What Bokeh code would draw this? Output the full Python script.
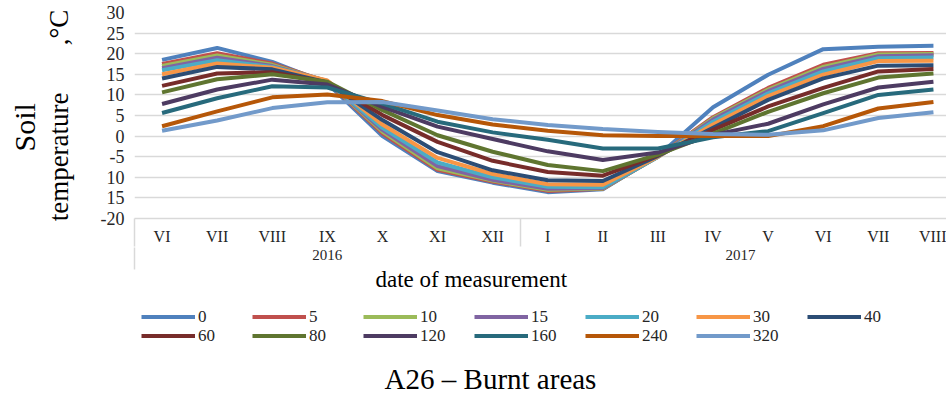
from bokeh.plotting import figure
from bokeh.layouts import column
from bokeh.models import (Range1d, FixedTicker, LinearAxis, Legend, LegendItem,
                          Title, Grid, Label)
from bokeh.embed import file_html
from bokeh.resources import INLINE

# ---------------- data ----------------
months = ["VI", "VII", "VIII", "IX", "X", "XI", "XII",
          "I", "II", "III", "IV", "V", "VI", "VII", "VIII"]
years = ["2016", "2017"]
months_per_year = [7, 8]

depths = ["0", "5", "10", "15", "20", "30", "40", "60", "80", "120", "160", "240", "320"]

t0   = [18.5, 21.4, 18.0, 12.8, 0.0, -8.5, -11.3, -13.6, -12.9, -4.8, 7.0, 14.9, 21.1, 21.7, 21.9]
t5   = [17.5, 20.1, 17.6, 13.2, 0.7, -8.2, -11.0, -13.3, -12.8, -4.9, 4.6, 11.7, 17.3, 20.1, 20.2]
t10  = [17.0, 19.6, 17.3, 13.3, 1.1, -7.8, -10.8, -13.0, -12.7, -5.0, 4.3, 11.3, 16.8, 19.8, 19.9]
t15  = [16.5, 19.0, 17.0, 13.4, 1.5, -7.3, -10.6, -12.8, -12.6, -5.0, 4.0, 10.9, 16.3, 19.4, 19.6]
t20  = [16.0, 18.4, 16.8, 13.3, 2.0, -6.4, -10.0, -12.3, -12.4, -5.1, 3.5, 10.4, 15.7, 18.9, 19.1]
t30  = [15.0, 17.6, 16.6, 13.5, 2.8, -5.3, -9.2, -11.7, -11.8, -5.0, 2.8, 9.7, 14.9, 18.2, 18.3]
t40  = [14.0, 16.8, 16.2, 13.0, 3.9, -3.9, -8.3, -10.7, -10.9, -4.8, 2.0, 8.8, 14.0, 17.1, 17.2]
t60  = [12.2, 15.2, 15.5, 13.0, 5.1, -1.4, -6.0, -8.7, -9.6, -4.6, 1.5, 7.2, 11.7, 15.7, 16.3]
t80  = [10.6, 13.8, 15.0, 13.2, 6.3, 0.2, -3.8, -7.0, -8.5, -4.5, 0.6, 5.9, 10.4, 14.2, 15.2]
t120 = [7.8, 11.3, 13.7, 12.5, 7.1, 2.3, -0.7, -3.7, -5.8, -4.0, 0.3, 3.0, 7.7, 11.8, 13.2]
t160 = [5.6, 9.2, 12.1, 11.8, 7.9, 3.5, 0.9, -0.9, -3.0, -3.0, -0.3, 1.2, 5.6, 10.0, 11.3]
t240 = [2.4, 6.0, 9.4, 10.1, 8.5, 5.1, 2.8, 1.3, 0.2, 0.0, 0.0, 0.0, 2.4, 6.7, 8.3]
t320 = [1.3, 3.8, 6.8, 8.2, 8.3, 6.2, 4.1, 2.7, 1.7, 1.0, 0.5, 0.3, 1.4, 4.4, 5.8]

series = [t0, t5, t10, t15, t20, t30, t40, t60, t80, t120, t160, t240, t320]

colors = ["#4F81BD", "#C0504D", "#9BBB59", "#8064A2", "#4BACC6", "#F79646",
          "#2C4D75", "#772C2A", "#5F7530", "#4D3B62", "#276A7C", "#B65708", "#729ACA"]

y_ticks = [-20, -15, -10, -5, 0, 5, 10, 15, 20, 25, 30]
y_tick_labels = ["-20", "15", "10", "-5", "0", "5", "10", "15", "20", "25", "30"]

legend_cols = 7

# ---------------- layout constants ----------------
SERIF = "Liberation Serif"
WIDTH = 946
HEIGHT_A, HEIGHT_B = 302, 94
LEFT, TOP, BOTTOM = 134, 12, 84
FRAME_W = WIDTH - LEFT
UNIT_X = 55.1
x_end = -0.5 + FRAME_W / UNIT_X
GRID = "#d9d9d9"
TXT = "#262626"

xs = list(range(len(months)))

# ================= main chart =================
p = figure(width=WIDTH, height=HEIGHT_A,
           x_range=Range1d(-0.5, x_end), y_range=Range1d(y_ticks[0], y_ticks[-1]),
           x_axis_type=None, y_axis_type=None,
           output_backend="svg", toolbar_location=None,
           min_border_left=LEFT, min_border_right=0,
           min_border_top=TOP, min_border_bottom=BOTTOM)
p.outline_line_color = None

yticker = FixedTicker(ticks=y_ticks)
p.add_layout(Grid(dimension=1, ticker=yticker, grid_line_color=GRID,
                  grid_line_width=1.5))

for vals, col in zip(series, colors):
    p.line(xs, vals, line_color=col, line_width=4, line_join="round")

# y axis with (second line of) its title
yaxis = LinearAxis(ticker=yticker,
                   major_label_overrides=dict(zip(y_ticks, y_tick_labels)),
                   axis_line_color=None, major_tick_line_color=None,
                   minor_tick_line_color=None, major_tick_out=0, major_tick_in=0,
                   major_label_standoff=10,
                   major_label_text_font=SERIF,
                   major_label_text_font_size="18px",
                   major_label_text_color=TXT,
                   axis_label="temperature" + "\u00a0" * 7 + ",\u00b0C",
                   axis_label_standoff=24,
                   axis_label_text_font=SERIF,
                   axis_label_text_font_size="27px",
                   axis_label_text_font_style="normal",
                   axis_label_text_color="black")
p.add_layout(yaxis, "left")
p.add_layout(Title(text="Soil", align="left", offset=67, text_font=SERIF,
                   text_font_size="30px", text_font_style="normal",
                   text_color="black", standoff=0), "left")

# month axis (first level)
bounds = [-0.5]
for n in months_per_year:
    bounds.append(bounds[-1] + n)
maxis = LinearAxis(ticker=FixedTicker(ticks=xs, minor_ticks=bounds[:-1]),
                   major_label_overrides={i: m for i, m in enumerate(months)},
                   axis_line_color=GRID, axis_line_width=1.5,
                   major_tick_line_color=None, major_tick_out=0, major_tick_in=0,
                   minor_tick_line_color=GRID, minor_tick_line_width=1.5,
                   minor_tick_out=28, minor_tick_in=0,
                   major_label_standoff=-19,
                   major_label_text_font=SERIF,
                   major_label_text_font_size="16px",
                   major_label_text_color=TXT)
p.add_layout(maxis, "below")

# year axis (second level)
centers = [(b0 + b1) / 2 for b0, b1 in zip(bounds[:-1], bounds[1:])]
yraxis = LinearAxis(ticker=FixedTicker(ticks=centers, minor_ticks=[bounds[0]]),
                    major_label_overrides=dict(zip(centers, years)),
                    axis_line_color=None,
                    major_tick_line_color=None, major_tick_out=0, major_tick_in=0,
                    minor_tick_line_color=GRID, minor_tick_line_width=1.5,
                    minor_tick_out=22, minor_tick_in=0,
                    major_label_standoff=-20,
                    major_label_text_font=SERIF,
                    major_label_text_font_size="15px",
                    major_label_text_color=TXT)
p.add_layout(yraxis, "below")

p.add_layout(Title(text="date of measurement", align="left", offset=241,
                   text_font=SERIF, text_font_size="23px", text_font_style="normal",
                   text_color="black", standoff=4), "below")

# ================= legend + caption strip =================
q = figure(width=WIDTH, height=HEIGHT_B,
           x_range=Range1d(0, FRAME_W), y_range=Range1d(0, HEIGHT_B),
           x_axis_type=None, y_axis_type=None,
           output_backend="svg", toolbar_location=None,
           min_border=0, min_border_left=LEFT)
q.outline_line_color = None

proxies = []
for vals, col in zip(series, colors):
    proxies.append(q.line(xs, vals, line_color=col, line_width=4, visible=False))

items = [LegendItem(label=d, renderers=[r]) for d, r in zip(depths, proxies)]
row_bottoms = [69.5, 50.5]
for k, yb in zip(range(0, len(items), legend_cols), row_bottoms):
    lg = Legend(items=items[k:k + legend_cols], orientation="horizontal",
                location=(7, yb),
                glyph_width=54, glyph_height=17, label_standoff=3, label_width=50,
                label_height=17, spacing=4, padding=0, margin=0,
                border_line_color=None, background_fill_alpha=0,
                label_text_font=SERIF, label_text_font_size="17px",
                label_text_color=TXT)
    q.add_layout(lg)

q.add_layout(Label(x=356, y=18, text="A26 \u2013 Burnt areas",
                   text_align="center", text_baseline="middle",
                   text_font=SERIF, text_font_size="29px", text_color="black"))

layout = column(p, q, spacing=0)
open("out.html", "w").write(file_html(layout, INLINE))
